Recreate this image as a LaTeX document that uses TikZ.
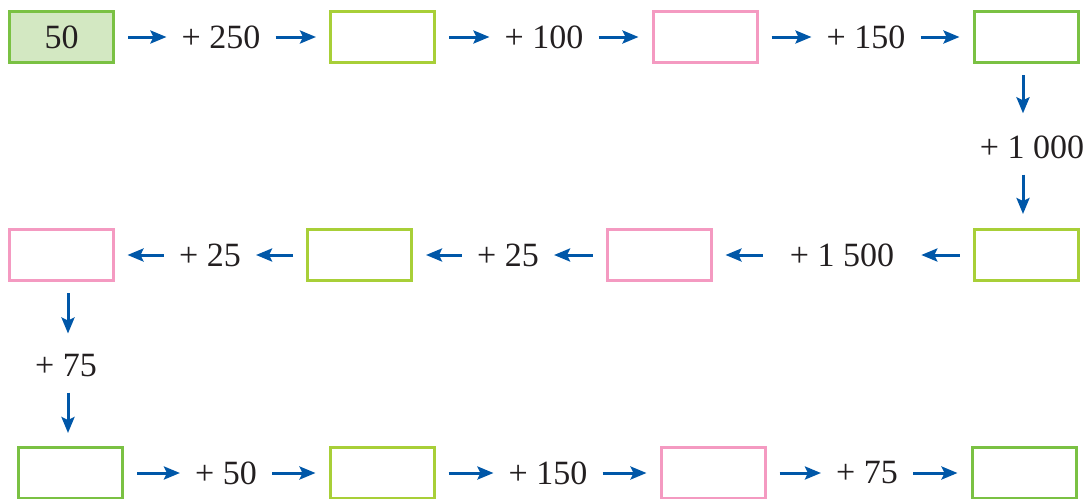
\documentclass[tikz,border=0pt]{standalone}
\usepackage{fontspec}
\setmainfont{Liberation Serif}
\usetikzlibrary{arrows.meta}
\definecolor{boxgreen}{RGB}{122,193,67}
\definecolor{boxlime}{RGB}{168,207,56}
\definecolor{boxpink}{RGB}{244,154,193}
\definecolor{boxfill}{RGB}{211,232,194}
\definecolor{flowblue}{RGB}{0,87,168}
\definecolor{ink}{RGB}{35,31,32}

\begin{document}
\begin{tikzpicture}[x=1pt,y=-1pt,>={Stealth[length=16pt,width=13pt,inset=3pt]},
    font=\fontsize{34}{40}\selectfont,text=ink,
    box/.style={draw,line width=3pt,minimum width=104pt,minimum height=51pt,inner sep=0pt},
    plus/.style={inner sep=2pt},
    flow/.style={->,draw=flowblue,line width=3pt,shorten <=13pt,shorten >=13pt}]
  \useasboundingbox (0,0) rectangle (1089,498);
  % top row
  \node[box,draw=boxgreen,fill=boxfill] (b1) at (61.5,37) {50};
  \node[plus] (p1) at (221,37) {+ 250};
  \node[box,draw=boxlime] (b2) at (382.5,37) {};
  \node[plus] (p2) at (544,37) {+ 100};
  \node[box,draw=boxpink] (b3) at (705,37) {};
  \node[plus] (p3) at (866,37) {+ 150};
  \node[box,draw=boxgreen] (b4) at (1026,37) {};
  % right column
  \node[plus] (p4) at (1032,147) {+ 1 000};
  \node[box,draw=boxlime] (b5) at (1026,255) {};
  % middle row
  \node[plus,inner xsep=14pt] (p5) at (842,255) {+ 1 500};
  \node[box,draw=boxpink] (b6) at (659,255) {};
  \node[plus] (p6) at (508,255) {+ 25};
  \node[box,draw=boxlime] (b7) at (359.5,255) {};
  \node[plus] (p7) at (210,255) {+ 25};
  \node[box,draw=boxpink] (b8) at (61,255) {};
  % left column
  \node[plus] (p8) at (66,366) {+ 75};
  \node[box,draw=boxgreen] (b9) at (70.5,473) {};
  % bottom row
  \node[plus] (p9) at (226,473) {+ 50};
  \node[box,draw=boxlime] (b10) at (382,473) {};
  \node[plus] (p10) at (548,473) {+ 150};
  \node[box,draw=boxpink] (b11) at (713,473) {};
  \node[plus] (p11) at (867,473) {+ 75};
  \node[box,draw=boxgreen] (b12) at (1024,473) {};

  \draw[flow] (b1) -- (p1);
  \draw[flow] (p1) -- (b2);
  \draw[flow] (b2) -- (p2);
  \draw[flow] (p2) -- (b3);
  \draw[flow] (b3) -- (p3);
  \draw[flow] (p3) -- (b4);
  \draw[flow,shorten <=11pt,shorten >=20pt] ([xshift=-3pt]b4.south) -- ([xshift=-3pt]b4.south |- p4.north);
  \draw[flow,shorten <=14pt,shorten >=14pt] ([xshift=-3pt]b5.north |- p4.south) -- ([xshift=-3pt]b5.north);
  \draw[flow] (b5) -- (p5);
  \draw[flow] (p5) -- (b6);
  \draw[flow] (b6) -- (p6);
  \draw[flow] (p6) -- (b7);
  \draw[flow] (b7) -- (p7);
  \draw[flow] (p7) -- (b8);
  \draw[flow,shorten <=11pt,shorten >=19pt] ([xshift=7pt]b8.south) -- ([xshift=7pt]b8.south |- p8.north);
  \draw[flow,shorten <=13pt,shorten >=13pt] ([xshift=7pt]b8.south |- p8.south) -- ([xshift=7pt]b8.south |- b9.north);
  \draw[flow] (b9) -- (p9);
  \draw[flow] (p9) -- (b10);
  \draw[flow] (b10) -- (p10);
  \draw[flow] (p10) -- (b11);
  \draw[flow] (b11) -- (p11);
  \draw[flow] (p11) -- (b12);
\end{tikzpicture}
\end{document}
